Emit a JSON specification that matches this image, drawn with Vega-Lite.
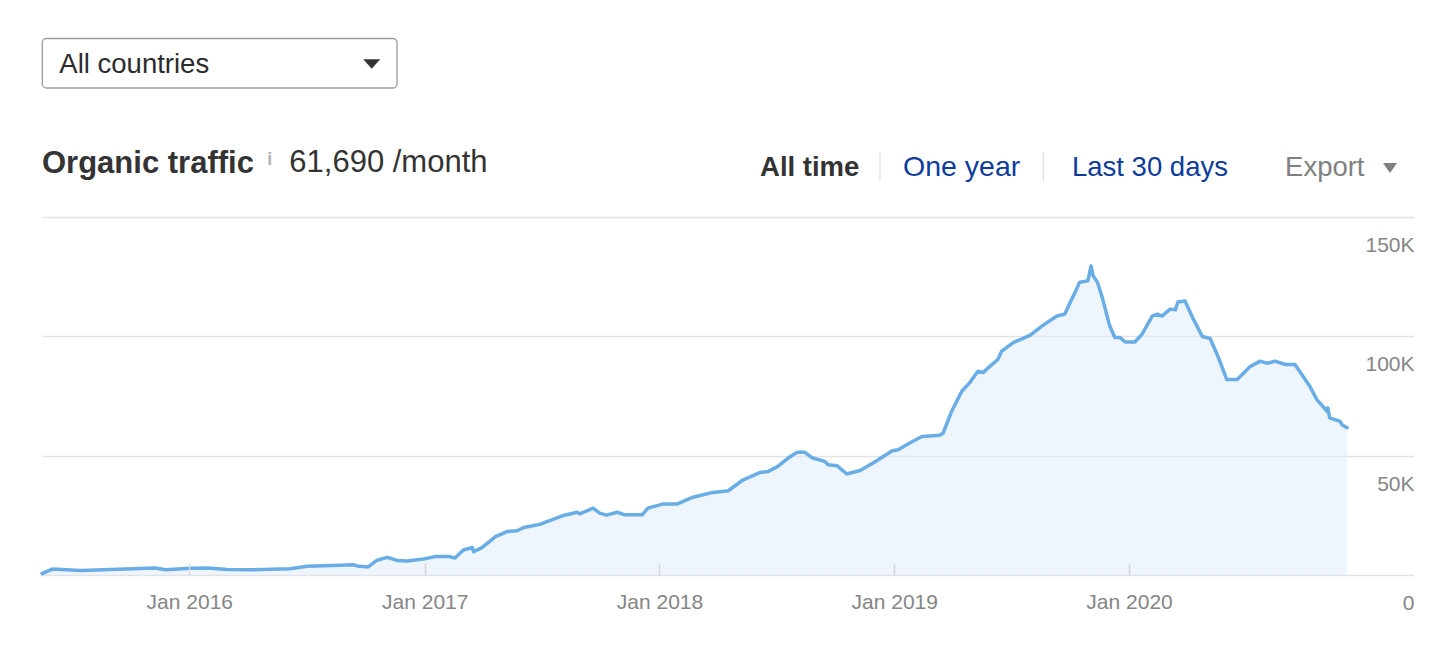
{
  "$schema": "https://vega.github.io/schema/vega-lite/v6.json",
  "width": 1372,
  "height": 358,
  "autosize": {"type": "none"},
  "padding": {"left": 42, "top": 217, "right": 42, "bottom": 76},
  "background": "white",
  "config": {"view": {"stroke": null}, "font": "Liberation Sans"},
  "datasets": {
    "traffic": [
      {"date": "2015-05-17", "visits": 600},
      {"date": "2015-06-02", "visits": 2500},
      {"date": "2015-07-16", "visits": 1900},
      {"date": "2015-10-17", "visits": 2700},
      {"date": "2015-11-09", "visits": 2900},
      {"date": "2015-11-25", "visits": 2200},
      {"date": "2016-01-03", "visits": 2800},
      {"date": "2016-01-29", "visits": 2900},
      {"date": "2016-02-29", "visits": 2300},
      {"date": "2016-04-09", "visits": 2200},
      {"date": "2016-06-06", "visits": 2600},
      {"date": "2016-07-02", "visits": 3700},
      {"date": "2016-08-23", "visits": 4100},
      {"date": "2016-09-12", "visits": 4300},
      {"date": "2016-09-18", "visits": 3800},
      {"date": "2016-10-05", "visits": 3400},
      {"date": "2016-10-19", "visits": 6200},
      {"date": "2016-11-04", "visits": 7400},
      {"date": "2016-11-19", "visits": 6100},
      {"date": "2016-12-05", "visits": 5900},
      {"date": "2016-12-30", "visits": 6700},
      {"date": "2017-01-17", "visits": 7700},
      {"date": "2017-02-07", "visits": 7800},
      {"date": "2017-02-17", "visits": 7100},
      {"date": "2017-03-02", "visits": 10500},
      {"date": "2017-03-16", "visits": 11500},
      {"date": "2017-03-18", "visits": 9800},
      {"date": "2017-03-31", "visits": 11500},
      {"date": "2017-04-21", "visits": 16100},
      {"date": "2017-05-09", "visits": 18200},
      {"date": "2017-05-24", "visits": 18500},
      {"date": "2017-06-04", "visits": 19900},
      {"date": "2017-06-29", "visits": 21200},
      {"date": "2017-07-10", "visits": 22400},
      {"date": "2017-08-03", "visits": 24800},
      {"date": "2017-08-26", "visits": 26300},
      {"date": "2017-08-30", "visits": 25600},
      {"date": "2017-09-20", "visits": 28000},
      {"date": "2017-09-30", "visits": 25900},
      {"date": "2017-10-11", "visits": 25100},
      {"date": "2017-10-27", "visits": 26300},
      {"date": "2017-11-08", "visits": 25200},
      {"date": "2017-12-05", "visits": 25200},
      {"date": "2017-12-14", "visits": 28000},
      {"date": "2018-01-07", "visits": 29800},
      {"date": "2018-01-28", "visits": 29700},
      {"date": "2018-02-22", "visits": 32600},
      {"date": "2018-03-25", "visits": 34600},
      {"date": "2018-04-18", "visits": 35300},
      {"date": "2018-05-11", "visits": 39900},
      {"date": "2018-06-07", "visits": 43000},
      {"date": "2018-06-19", "visits": 43400},
      {"date": "2018-07-04", "visits": 45500},
      {"date": "2018-07-20", "visits": 49000},
      {"date": "2018-08-03", "visits": 51400},
      {"date": "2018-08-15", "visits": 51400},
      {"date": "2018-08-27", "visits": 49000},
      {"date": "2018-09-15", "visits": 47600},
      {"date": "2018-09-20", "visits": 46200},
      {"date": "2018-10-04", "visits": 45800},
      {"date": "2018-10-19", "visits": 42300},
      {"date": "2018-11-09", "visits": 43800},
      {"date": "2018-11-29", "visits": 46900},
      {"date": "2018-12-29", "visits": 52100},
      {"date": "2019-01-07", "visits": 52500},
      {"date": "2019-01-25", "visits": 55300},
      {"date": "2019-02-13", "visits": 58000},
      {"date": "2019-03-13", "visits": 58600},
      {"date": "2019-03-18", "visits": 59500},
      {"date": "2019-03-31", "visits": 68500},
      {"date": "2019-04-16", "visits": 77000},
      {"date": "2019-04-28", "visits": 80500},
      {"date": "2019-05-11", "visits": 85400},
      {"date": "2019-05-19", "visits": 84800},
      {"date": "2019-05-30", "visits": 87500},
      {"date": "2019-06-11", "visits": 90300},
      {"date": "2019-06-17", "visits": 93800},
      {"date": "2019-07-05", "visits": 97400},
      {"date": "2019-07-31", "visits": 100400},
      {"date": "2019-08-20", "visits": 104600},
      {"date": "2019-09-11", "visits": 108500},
      {"date": "2019-09-23", "visits": 109300},
      {"date": "2019-10-04", "visits": 115600},
      {"date": "2019-10-09", "visits": 118400},
      {"date": "2019-10-16", "visits": 122600},
      {"date": "2019-10-29", "visits": 123300},
      {"date": "2019-11-03", "visits": 129500},
      {"date": "2019-11-06", "visits": 125400},
      {"date": "2019-11-13", "visits": 122600},
      {"date": "2019-11-21", "visits": 115600},
      {"date": "2019-12-02", "visits": 104300},
      {"date": "2019-12-10", "visits": 99500},
      {"date": "2019-12-18", "visits": 99500},
      {"date": "2019-12-26", "visits": 97600},
      {"date": "2020-01-10", "visits": 97600},
      {"date": "2020-01-21", "visits": 100800},
      {"date": "2020-02-06", "visits": 108500},
      {"date": "2020-02-14", "visits": 109300},
      {"date": "2020-02-21", "visits": 108500},
      {"date": "2020-03-05", "visits": 111400},
      {"date": "2020-03-13", "visits": 111100},
      {"date": "2020-03-17", "visits": 114400},
      {"date": "2020-03-28", "visits": 114800},
      {"date": "2020-04-10", "visits": 107200},
      {"date": "2020-04-24", "visits": 99900},
      {"date": "2020-05-06", "visits": 99100},
      {"date": "2020-05-17", "visits": 92400},
      {"date": "2020-06-01", "visits": 81900},
      {"date": "2020-06-17", "visits": 81900},
      {"date": "2020-06-25", "visits": 84000},
      {"date": "2020-07-07", "visits": 87300},
      {"date": "2020-07-23", "visits": 89600},
      {"date": "2020-08-03", "visits": 88700},
      {"date": "2020-08-15", "visits": 89600},
      {"date": "2020-08-31", "visits": 88200},
      {"date": "2020-09-15", "visits": 88200},
      {"date": "2020-10-08", "visits": 79100},
      {"date": "2020-10-19", "visits": 73500},
      {"date": "2020-11-04", "visits": 68600},
      {"date": "2020-11-05", "visits": 70000},
      {"date": "2020-11-08", "visits": 65800},
      {"date": "2020-11-24", "visits": 64400},
      {"date": "2020-11-27", "visits": 63000},
      {"date": "2020-12-05", "visits": 61700}
    ]
  },
  "layer": [
    {
      "data": {"name": "traffic"},
      "mark": {"type": "area", "color": "#d9e9f9", "opacity": 0.45},
      "encoding": {
        "x": {
          "field": "date", "type": "temporal", "title": null,
          "scale": {"type": "utc", "domain": [{"year": 2015, "month": 5, "date": 17, "utc": true}, {"year": 2021, "month": 3, "date": 19, "utc": true}]},
          "axis": {
            "orient": "bottom", "domain": false, "grid": false, "zindex": 1,
            "ticks": true, "tickSize": -12, "tickColor": "#d6d8dc", "tickWidth": 1.5,
            "values": [
              {"year": 2016, "month": 1, "date": 1, "utc": true},
              {"year": 2017, "month": 1, "date": 1, "utc": true},
              {"year": 2018, "month": 1, "date": 1, "utc": true},
              {"year": 2019, "month": 1, "date": 1, "utc": true},
              {"year": 2020, "month": 1, "date": 1, "utc": true}
            ],
            "labelExpr": "utcFormat(datum.value, '%b %Y')",
            "labelFont": "Liberation Sans", "labelFontSize": 21, "labelColor": "#858585",
            "labelBaseline": "alphabetic", "labelPadding": 45.5, "labelAlign": "center",
            "labelOverlap": false, "labelFlush": false
          }
        },
        "y": {
          "field": "visits", "type": "quantitative", "title": null,
          "scale": {"domain": [0, 150000], "nice": false},
          "axis": {
            "orient": "right", "values": [0, 50000, 100000, 150000],
            "domain": false, "ticks": false, "tickSize": 0,
            "grid": true, "gridColor": "#e3e3e6", "gridWidth": 1.3,
            "labelExpr": "datum.value === 0 ? '0' : (datum.value / 1000) + 'K'",
            "labelFont": "Liberation Sans", "labelFontSize": 21, "labelColor": "#858585",
            "labelAlign": "right", "labelBaseline": "alphabetic", "labelPadding": 0, "labelOffset": 34.5,
            "labelOverlap": false, "labelFlush": false
          }
        }
      }
    },
    {
      "data": {"name": "traffic"},
      "mark": {"type": "line", "color": "#69ade6", "strokeWidth": 3.5, "strokeJoin": "round", "strokeCap": "round"},
      "encoding": {
        "x": {"field": "date", "type": "temporal", "title": null},
        "y": {"field": "visits", "type": "quantitative", "title": null}
      }
    },
    {
      "data": {"values": [{"label": "dropdown"}]},
      "mark": {"type": "rect", "fill": "white", "stroke": "#9b9b9b", "strokeWidth": 1.3, "cornerRadius": 4},
      "encoding": {
        "x": {"datum": {"year": 2015, "month": 5, "date": 17, "hours": 12, "utc": true}, "type": "temporal", "title": null},
        "x2": {"datum": {"year": 2016, "month": 11, "date": 18, "hours": 22, "utc": true}},
        "y": {"datum": 224800, "type": "quantitative", "title": null},
        "y2": {"datum": 204050}
      }
    },
    {
      "data": {"values": [{"label": "All countries"}]},
      "mark": {"type": "text", "align": "left", "baseline": "alphabetic", "font": "Liberation Sans", "fontSize": 27.5, "color": "#2b2b2b"},
      "encoding": {
        "x": {"datum": {"year": 2015, "month": 6, "date": 13, "utc": true}, "type": "temporal", "title": null},
        "y": {"datum": 210200, "type": "quantitative", "title": null},
        "text": {"field": "label"}
      }
    },
    {
      "data": {"values": [{"label": "arrow"}]},
      "mark": {"type": "point", "shape": "M-1,-0.55L1,-0.55L0,0.55Z", "filled": true, "opacity": 1, "size": 289, "color": "#333333"},
      "encoding": {
        "x": {"datum": {"year": 2016, "month": 10, "date": 10, "hours": 14, "utc": true}, "type": "temporal", "title": null},
        "y": {"datum": 214100, "type": "quantitative", "title": null}
      }
    },
    {
      "data": {"values": [{"label": "Organic traffic"}]},
      "mark": {"type": "text", "align": "left", "baseline": "alphabetic", "font": "Liberation Sans", "fontSize": 31, "fontWeight": "bold", "color": "#333333"},
      "encoding": {
        "x": {"datum": {"year": 2015, "month": 5, "date": 17, "utc": true}, "type": "temporal", "title": null},
        "y": {"datum": 168560, "type": "quantitative", "title": null},
        "text": {"field": "label"}
      }
    },
    {
      "data": {"values": [{"label": "i"}]},
      "mark": {"type": "text", "align": "center", "baseline": "alphabetic", "font": "Liberation Sans", "fontSize": 18, "fontWeight": "bold", "color": "#b0b0b0"},
      "encoding": {
        "x": {"datum": {"year": 2016, "month": 5, "date": 5, "utc": true}, "type": "temporal", "title": null},
        "y": {"datum": 171800, "type": "quantitative", "title": null},
        "text": {"field": "label"}
      }
    },
    {
      "data": {"values": [{"label": "61,690 /month"}]},
      "mark": {"type": "text", "align": "left", "baseline": "alphabetic", "font": "Liberation Sans", "fontSize": 31, "color": "#333333"},
      "encoding": {
        "x": {"datum": {"year": 2016, "month": 6, "date": 4, "hours": 12, "utc": true}, "type": "temporal", "title": null},
        "y": {"datum": 169000, "type": "quantitative", "title": null},
        "text": {"field": "label"}
      }
    },
    {
      "data": {"values": [{"label": "All time"}]},
      "mark": {"type": "text", "align": "left", "baseline": "alphabetic", "font": "Liberation Sans", "fontSize": 27.5, "fontWeight": "bold", "color": "#333333"},
      "encoding": {
        "x": {"datum": {"year": 2018, "month": 6, "date": 6, "hours": 7, "utc": true}, "type": "temporal", "title": null},
        "y": {"datum": 167300, "type": "quantitative", "title": null},
        "text": {"field": "label"}
      }
    },
    {
      "data": {"values": [{"label": "separator 1"}]},
      "mark": {"type": "rule", "color": "#e0e0e0", "strokeWidth": 1.3},
      "encoding": {
        "x": {"datum": {"year": 2018, "month": 12, "date": 9, "hours": 19, "utc": true}, "type": "temporal", "title": null},
        "y": {"datum": 177360, "type": "quantitative", "title": null},
        "y2": {"datum": 165080}
      }
    },
    {
      "data": {"values": [{"label": "separator 2"}]},
      "mark": {"type": "rule", "color": "#e0e0e0", "strokeWidth": 1.3},
      "encoding": {
        "x": {"datum": {"year": 2019, "month": 8, "date": 20, "hours": 17, "utc": true}, "type": "temporal", "title": null},
        "y": {"datum": 177360, "type": "quantitative", "title": null},
        "y2": {"datum": 165080}
      }
    },
    {
      "data": {"values": [{"label": "One year"}]},
      "mark": {"type": "text", "align": "left", "baseline": "alphabetic", "font": "Liberation Sans", "fontSize": 28.5, "color": "#0d3c9b"},
      "encoding": {
        "x": {"datum": {"year": 2019, "month": 1, "date": 14, "hours": 14, "utc": true}, "type": "temporal", "title": null},
        "y": {"datum": 167300, "type": "quantitative", "title": null},
        "text": {"field": "label"}
      }
    },
    {
      "data": {"values": [{"label": "Last 30 days"}]},
      "mark": {"type": "text", "align": "left", "baseline": "alphabetic", "font": "Liberation Sans", "fontSize": 27.5, "color": "#0d3c9b"},
      "encoding": {
        "x": {"datum": {"year": 2019, "month": 10, "date": 4, "hours": 7, "utc": true}, "type": "temporal", "title": null},
        "y": {"datum": 167300, "type": "quantitative", "title": null},
        "text": {"field": "label"}
      }
    },
    {
      "data": {"values": [{"label": "Export"}]},
      "mark": {"type": "text", "align": "left", "baseline": "alphabetic", "font": "Liberation Sans", "fontSize": 27.5, "color": "#808080"},
      "encoding": {
        "x": {"datum": {"year": 2020, "month": 8, "date": 30, "hours": 12, "utc": true}, "type": "temporal", "title": null},
        "y": {"datum": 167300, "type": "quantitative", "title": null},
        "text": {"field": "label"}
      }
    },
    {
      "data": {"values": [{"label": "export arrow"}]},
      "mark": {"type": "point", "shape": "M-1,-0.7L1,-0.7L0,0.7Z", "filled": true, "opacity": 1, "size": 196, "color": "#808080"},
      "encoding": {
        "x": {"datum": {"year": 2021, "month": 2, "date": 9, "hours": 17, "utc": true}, "type": "temporal", "title": null},
        "y": {"datum": 170530, "type": "quantitative", "title": null}
      }
    }
  ]
}
